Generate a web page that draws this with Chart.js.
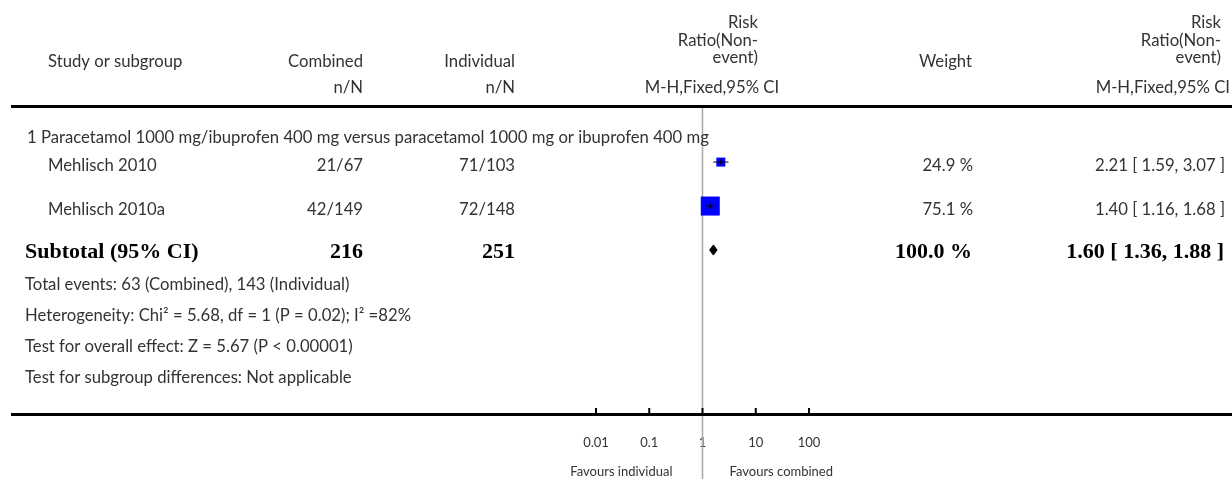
<!DOCTYPE html>
<html>
<head>
<meta charset="utf-8">
<script src="https://cdn.jsdelivr.net/npm/chart.js@4.4.1/dist/chart.umd.min.js"></script>
<style>
	html, body { margin: 0; padding: 0; background: #fff; }
	canvas { display: block; }
</style>
</head>
<body>
<canvas id="chart" width="1232" height="479"></canvas>
<script>
// Datos del gráfico
const studies = ['Mehlisch 2010', 'Mehlisch 2010a'];
const combinedEvents = ['21/67', '42/149'];
const individualEvents = ['71/103', '72/148'];
const riskRatios = [2.21, 1.40];
const lowerCI = [1.59, 1.16];
const upperCI = [3.07, 1.68];
const weights = [24.9, 75.1];

const subtotalLabel = 'Subtotal (95% CI)';
const subtotalTotals = [216, 251];
const subtotalRR = 1.60;
const subtotalCI = [1.36, 1.88];
const subtotalWeight = 100.0;

const subgroupTitle = '1 Paracetamol 1000 mg/ibuprofen 400 mg versus paracetamol 1000 mg or ibuprofen 400 mg';
const footerLines = [
	'Total events: 63 (Combined), 143 (Individual)',
	'Heterogeneity: Chi\u00b2 = 5.68, df = 1 (P = 0.02); I\u00b2 =82%',
	'Test for overall effect: Z = 5.67 (P < 0.00001)',
	'Test for subgroup differences: Not applicable'
];
const xTicks = [0.01, 0.1, 1, 10, 100];
const favours = ['Favours individual', 'Favours combined'];

const SANS = 'Lato, "Open Sans", sans-serif';
const SERIF = '"Liberation Serif", "DejaVu Serif", serif';
const TEXT = '#333333';

const fmt = (v) => v.toFixed(2);
const ciText = (rr, lo, hi) => fmt(rr) + ' [ ' + fmt(lo) + ', ' + fmt(hi) + ' ]';

// filas: estudios en 1, 2; subtotal en 3
const studyRows = studies.map((s, i) => i + 1);
const subtotalRow = studies.length + 1;

const datasets = [];

// Intervalos de confianza
studies.forEach((s, i) => {
	datasets.push({
		data: [{ x: lowerCI[i], y: studyRows[i] }, { x: upperCI[i], y: studyRows[i] }],
		showLine: true,
		borderColor: '#000',
		borderWidth: 1,
		pointRadius: 0,
		order: 1
	});
});

// Marca central
datasets.push({
	data: studies.map((s, i) => ({ x: riskRatios[i], y: studyRows[i] })),
	pointStyle: 'line',
	pointRotation: 90,
	pointRadius: 3,
	borderColor: '#000',
	borderWidth: 1,
	order: 0
});

// Cuadrados por peso
datasets.push({
	data: studies.map((s, i) => ({ x: riskRatios[i], y: studyRows[i] })),
	pointStyle: 'rect',
	pointRadius: weights.map((w) => (4 + 0.2 * w) / Math.SQRT2),
	backgroundColor: '#0000ff',
	borderWidth: 0,
	order: 2
});

// Diamante del subtotal
const dh = 0.115;
datasets.push({
	data: [
		{ x: subtotalCI[0], y: subtotalRow },
		{ x: subtotalRR, y: subtotalRow - dh },
		{ x: subtotalCI[1], y: subtotalRow },
		{ x: subtotalRR, y: subtotalRow + dh },
		{ x: subtotalCI[0], y: subtotalRow }
	],
	showLine: true,
	fill: 'shape',
	backgroundColor: '#000',
	borderColor: '#000',
	borderWidth: 1,
	pointRadius: 0,
	order: 2
});

function text(ctx, str, x, y, align, font, color) {
	ctx.font = font;
	ctx.fillStyle = color || TEXT;
	ctx.textAlign = align;
	ctx.textBaseline = 'middle';
	ctx.fillText(str, x, y);
}

const forestPlugin = {
	id: 'forest',
	beforeDatasetsDraw(chart) {
		const ctx = chart.ctx;
		const x1 = chart.scales.x.getPixelForValue(1);
		ctx.save();
		ctx.strokeStyle = '#a8a8a8';
		ctx.lineWidth = 1.5;
		ctx.beginPath();
		ctx.moveTo(x1, chart.chartArea.top);
		ctx.lineTo(x1, chart.height);
		ctx.stroke();
		ctx.restore();
	},
	afterDraw(chart) {
		const ctx = chart.ctx;
		const xs = chart.scales.x;
		const ys = chart.scales.y;
		const area = chart.chartArea;
		const reg = '16.7px ' + SANS;
		const small = '13px ' + SANS;
		const bold = 'bold 22px ' + SERIF;
		ctx.save();

		// Cabecera
		text(ctx, 'Study or subgroup', 48, 62, 'left', reg);
		text(ctx, 'Combined', 363, 62, 'right', reg);
		text(ctx, 'Individual', 515, 62, 'right', reg);
		text(ctx, 'Weight', 972, 62, 'right', reg);
		text(ctx, 'n/N', 363, 88, 'right', reg);
		text(ctx, 'n/N', 515, 88, 'right', reg);
		['Risk', 'Ratio(Non-', 'event)'].forEach((t, i) => {
			text(ctx, t, 758, 23 + i * 17.5, 'right', reg);
			text(ctx, t, 1221, 23 + i * 17.5, 'right', reg);
		});
		text(ctx, 'M-H,Fixed,95% CI', 712, 88, 'center', reg);
		text(ctx, 'M-H,Fixed,95% CI', 1230, 88, 'right', reg);

		// Líneas horizontales
		ctx.fillStyle = '#000';
		ctx.fillRect(11, area.top - 3, chart.width - 11, 3);
		ctx.fillRect(11, area.bottom - 1, chart.width - 11, 3);

		// Marcas del eje
		xTicks.forEach((v) => {
			ctx.fillRect(xs.getPixelForValue(v) - 1, area.bottom - 6, 2, 6);
		});

		// Filas
		text(ctx, subgroupTitle, 27, ys.getPixelForValue(0.45), 'left', reg);
		studies.forEach((s, i) => {
			const y = ys.getPixelForValue(studyRows[i]) + 4;
			text(ctx, s, 48, y, 'left', reg);
			text(ctx, combinedEvents[i], 363, y, 'right', reg);
			text(ctx, individualEvents[i], 515, y, 'right', reg);
			text(ctx, weights[i].toFixed(1) + ' %', 973, y, 'right', reg);
			text(ctx, ciText(riskRatios[i], lowerCI[i], upperCI[i]), 1225, y, 'right', reg);
		});
		const ySub = ys.getPixelForValue(subtotalRow) + 2;
		text(ctx, subtotalLabel, 25, ySub, 'left', bold, '#000');
		text(ctx, String(subtotalTotals[0]), 363, ySub, 'right', bold, '#000');
		text(ctx, String(subtotalTotals[1]), 515, ySub, 'right', bold, '#000');
		text(ctx, subtotalWeight.toFixed(1) + ' %', 972, ySub, 'right', bold, '#000');
		text(ctx, ciText(subtotalRR, subtotalCI[0], subtotalCI[1]), 1224, ySub, 'right', bold, '#000');

		footerLines.forEach((t, i) => {
			text(ctx, t, 25, ySub + 33 + i * 31, 'left', reg);
		});

		// Favorece
		const x1 = xs.getPixelForValue(1);
		text(ctx, favours[0], x1 - 30, 472, 'right', small);
		text(ctx, favours[1], x1 + 27, 472, 'left', small);

		ctx.restore();
	}
};

const canvas = document.getElementById('chart');

const graph = new Chart(canvas, {
	type: 'scatter',
	data: { datasets: datasets },
	options: {
		responsive: false,
		animation: false,
		layout: { padding: { left: 596, right: 423, top: 108, bottom: 0 } },
		plugins: {
			legend: { display: false },
			tooltip: { enabled: false }
		},
		scales: {
			x: {
				type: 'logarithmic',
				min: 0.01,
				max: 100,
				afterBuildTicks: (scale) => {
					scale.ticks = xTicks.map((v) => ({ value: v }));
				},
				afterFit: (scale) => {
					scale.height = 65;
				},
				grid: { display: false, drawTicks: false },
				border: { display: false },
				ticks: {
					autoSkip: false,
					maxRotation: 0,
					padding: 21,
					color: TEXT,
					font: { family: SANS, size: 13 },
					callback: (v) => String(v)
				}
			},
			y: {
				display: false,
				reverse: true,
				min: -0.23,
				max: 6.73
			}
		}
	},
	plugins: [forestPlugin]
});
</script>
</body>
</html>
